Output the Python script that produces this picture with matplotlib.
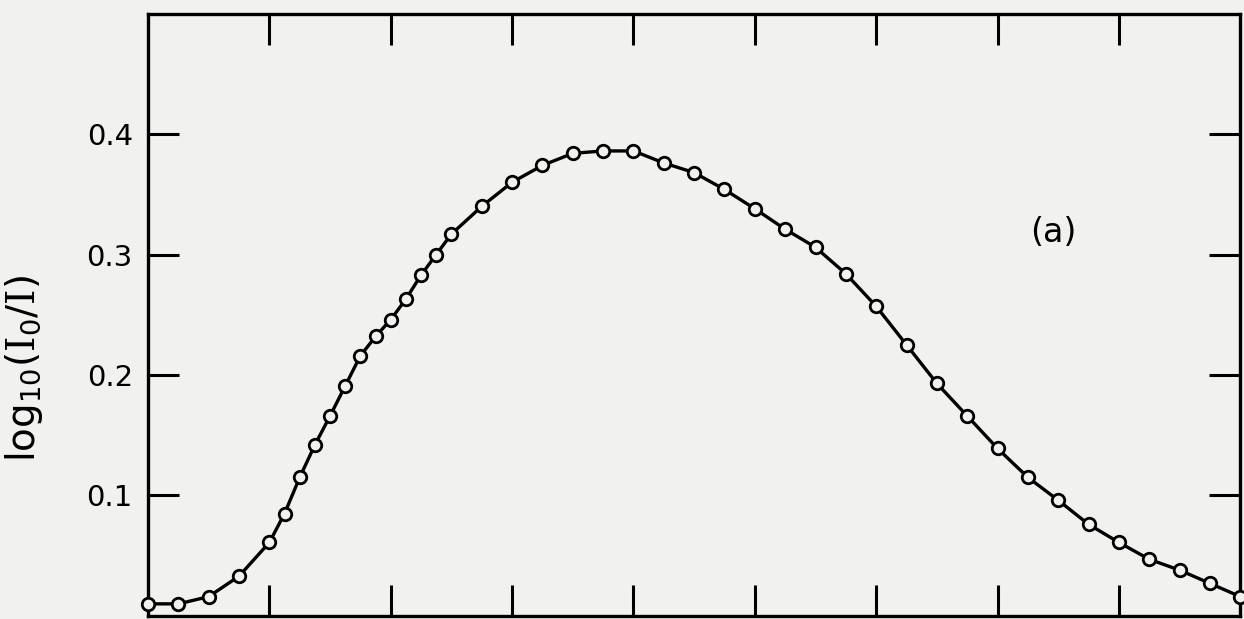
import matplotlib.pyplot as plt

plt.rcParams['mathtext.fontset'] = 'custom'
plt.rcParams['mathtext.rm'] = 'DejaVu Serif'
plt.rcParams['mathtext.sf'] = 'DejaVu Sans'

# Absorbance values
x_vals = [0, 0.25, 0.5, 0.75, 1.0, 1.125, 1.25, 1.375, 1.5, 1.625, 1.75, 1.875,
          2.0, 2.125, 2.25, 2.375, 2.5, 2.75, 3.0, 3.25, 3.5, 3.75, 4.0, 4.25,
          4.5, 4.75, 5.0, 5.25, 5.5, 5.75, 6.0, 6.25, 6.5, 6.75, 7.0, 7.25,
          7.5, 7.75, 8.0, 8.25, 8.5, 8.75, 9.0]
absorb = [0.010, 0.010, 0.016, 0.033, 0.061, 0.085, 0.115, 0.142, 0.166, 0.191,
          0.216, 0.232, 0.246, 0.263, 0.283, 0.300, 0.317, 0.340, 0.360, 0.374,
          0.384, 0.386, 0.386, 0.376, 0.368, 0.354, 0.338, 0.321, 0.306, 0.284,
          0.257, 0.225, 0.193, 0.166, 0.139, 0.115, 0.096, 0.076, 0.061, 0.047,
          0.038, 0.027, 0.016]
x_ticks = [1, 2, 3, 4, 5, 6, 7, 8]
y_ticks = [0.1, 0.2, 0.3, 0.4]
y_tick_labels = ['0.1', '0.2', '0.3', '0.4']

bg = '#f1f1ef'
fig = plt.figure(figsize=(12.44, 6.19), dpi=100, facecolor=bg)
ax = fig.add_axes([0.119, 0.005, 0.878, 0.973], facecolor=bg)

ax.plot(x_vals, absorb, color='black', linewidth=2.4, marker='o',
        markersize=9, markerfacecolor=bg, markeredgecolor='black',
        markeredgewidth=2.0, clip_on=False, zorder=3)

ax.set_xlim(0, 9)
ax.set_ylim(0, 0.5)
ax.set_xticks(x_ticks)
ax.set_xticklabels([])
ax.set_yticks(y_ticks)
ax.set_yticklabels(y_tick_labels)

ax.tick_params(direction='in', length=22, width=2.2, top=True, right=True,
               labelsize=21, pad=11)
for s in ax.spines.values():
    s.set_linewidth(2.4)

ax.set_ylabel(r'log$_{\mathsf{10}}$($\mathrm{I}_{\mathsf{0}}$/$\mathrm{I}$)',
              fontsize=28)
ax.yaxis.set_label_coords(-0.094, 0.41)

ax.text(7.46, 0.318, '(a)', fontsize=24, ha='center', va='center')

fig.savefig('out.png', dpi=100, facecolor=bg)
